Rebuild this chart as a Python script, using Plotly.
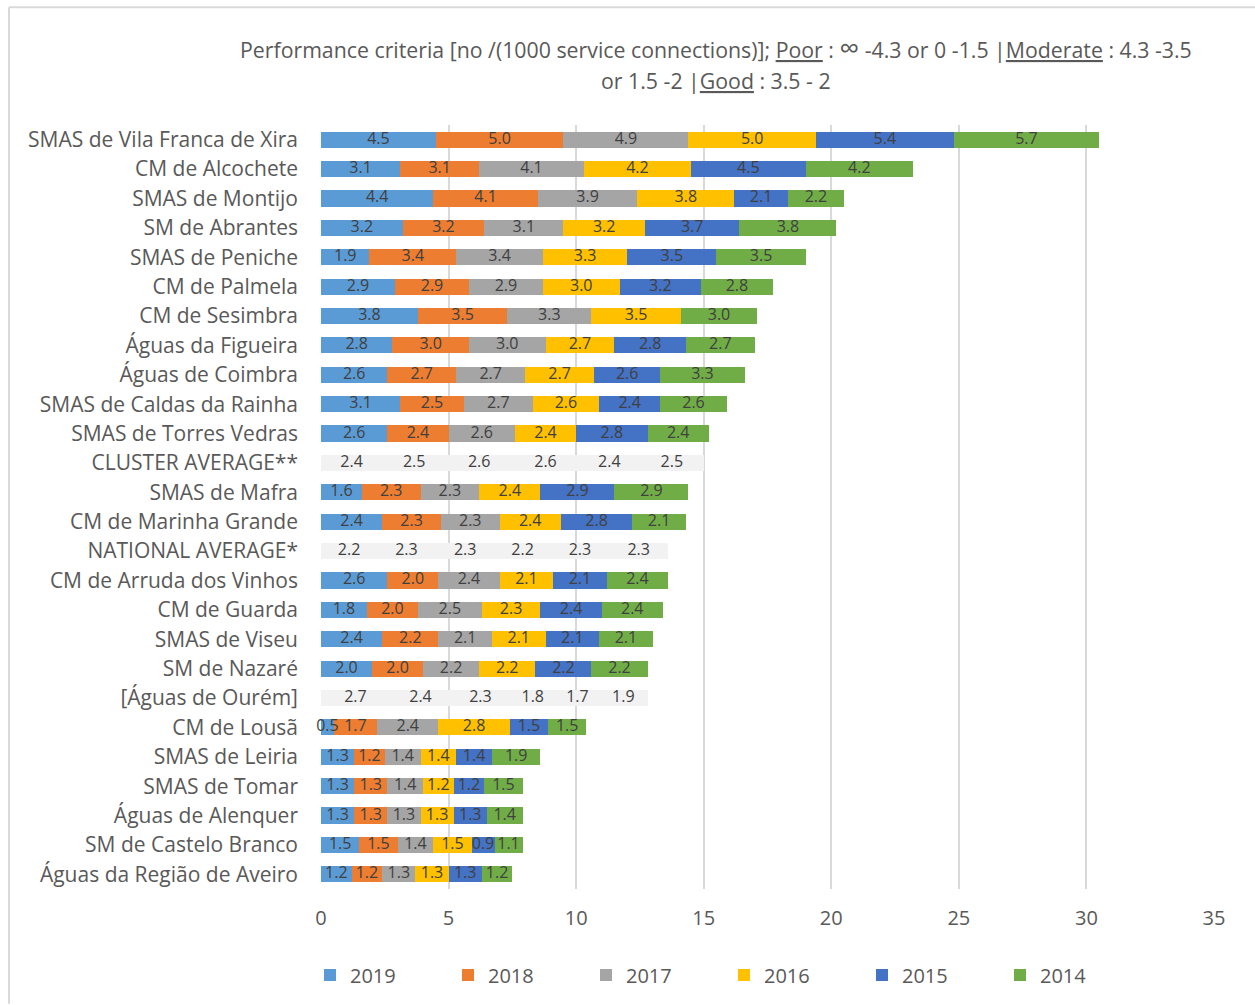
import plotly.graph_objects as go

categories = [
    "SMAS de Vila Franca de Xira", "CM de Alcochete", "SMAS de Montijo", "SM de Abrantes",
    "SMAS de Peniche", "CM de Palmela", "CM de Sesimbra", "Águas da Figueira",
    "Águas de Coimbra", "SMAS de Caldas da Rainha", "SMAS de Torres Vedras",
    "CLUSTER AVERAGE**", "SMAS de Mafra", "CM de Marinha Grande", "NATIONAL AVERAGE*",
    "CM de Arruda dos Vinhos", "CM de Guarda", "SMAS de Viseu", "SM de Nazaré",
    "[Águas de Ourém]", "CM de Lousã", "SMAS de Leiria", "SMAS de Tomar",
    "Águas de Alenquer", "SM de Castelo Branco", "Águas da Região de Aveiro",
]

years = ["2019", "2018", "2017", "2016", "2015", "2014"]

v2019 = [4.5, 3.1, 4.4, 3.2, 1.9, 2.9, 3.8, 2.8, 2.6, 3.1, 2.6, 2.4, 1.6, 2.4, 2.2, 2.6, 1.8, 2.4, 2.0, 2.7, 0.5, 1.3, 1.3, 1.3, 1.5, 1.2]
v2018 = [5.0, 3.1, 4.1, 3.2, 3.4, 2.9, 3.5, 3.0, 2.7, 2.5, 2.4, 2.5, 2.3, 2.3, 2.3, 2.0, 2.0, 2.2, 2.0, 2.4, 1.7, 1.2, 1.3, 1.3, 1.5, 1.2]
v2017 = [4.9, 4.1, 3.9, 3.1, 3.4, 2.9, 3.3, 3.0, 2.7, 2.7, 2.6, 2.6, 2.3, 2.3, 2.3, 2.4, 2.5, 2.1, 2.2, 2.3, 2.4, 1.4, 1.4, 1.3, 1.4, 1.3]
v2016 = [5.0, 4.2, 3.8, 3.2, 3.3, 3.0, 3.5, 2.7, 2.7, 2.6, 2.4, 2.6, 2.4, 2.4, 2.2, 2.1, 2.3, 2.1, 2.2, 1.8, 2.8, 1.4, 1.2, 1.3, 1.5, 1.3]
v2015 = [5.4, 4.5, 2.1, 3.7, 3.5, 3.2, None, 2.8, 2.6, 2.4, 2.8, 2.4, 2.9, 2.8, 2.3, 2.1, 2.4, 2.1, 2.2, 1.7, 1.5, 1.4, 1.2, 1.3, 0.9, 1.3]
v2014 = [5.7, 4.2, 2.2, 3.8, 3.5, 2.8, 3.0, 2.7, 3.3, 2.6, 2.4, 2.5, 2.9, 2.1, 2.3, 2.4, 2.4, 2.1, 2.2, 1.9, 1.5, 1.9, 1.5, 1.4, 1.1, 1.2]

series = [v2019, v2018, v2017, v2016, v2015, v2014]
colors = ["#5B9BD5", "#ED7D31", "#A5A5A5", "#FFC000", "#4472C4", "#70AD47"]
reference_rows = {"CLUSTER AVERAGE**", "NATIONAL AVERAGE*", "[Águas de Ourém]"}
ref_color = "#F2F2F2"

x_ticks = [0, 5, 10, 15, 20, 25, 30, 35]

fig = go.Figure()
for year, vals, col in zip(years, series, colors):
    bar_colors = [ref_color if c in reference_rows else col for c in categories]
    fig.add_trace(go.Bar(
        y=categories, x=vals, name=year, orientation="h",
        marker=dict(color=bar_colors, line=dict(width=0)),
        hoverinfo="x+y+name",
    ))

# data labels on top of all bars (centre of each stacked segment)
lab_x, lab_y, lab_t = [], [], []
for i, cat in enumerate(categories):
    start = 0.0
    for vals in series:
        v = vals[i]
        if v is None:
            continue
        lab_x.append(start + v / 2)
        lab_y.append(cat)
        lab_t.append(f"{v:.1f}")
        start += v
fig.add_trace(go.Scatter(
    x=lab_x, y=lab_y, text=lab_t, mode="text", textposition="middle center",
    textfont=dict(family="Open Sans, Noto Sans", size=16, color="#404040"),
    showlegend=False, hoverinfo="skip", cliponaxis=False,
))

L, R, T, B = 321, 1214, 125, 890
W, H = 1255, 1005
pw, ph = R - L, B - T

def px(x):
    return (x - L) / pw

def py(y):
    return (B - y) / ph

title_font = dict(family="Open Sans, Noto Sans", size=21.3, color="#595959")
inf = '<span style="font-size:28px">∞</span>'

fig.update_layout(
    width=W, height=H,
    margin=dict(l=L, r=W - R, t=T, b=H - B),
    barmode="stack", bargap=0.45,
    plot_bgcolor="white", paper_bgcolor="white",
    font=dict(family="Open Sans, Noto Sans, sans-serif", color="#595959"),
    xaxis=dict(range=[0, 35], tickvals=x_ticks, showgrid=True, gridcolor="#D9D9D9", gridwidth=1.5,
               zeroline=False, showline=False, ticks="", tickfont=dict(size=20, color="#595959"),
               ticklabelstandoff=15, fixedrange=True),
    yaxis=dict(range=[len(categories) - 0.5, -0.5], showgrid=False, showline=False, ticks="",
               tickfont=dict(size=21, color="#595959"), ticklabelstandoff=22),
    legend=dict(orientation="h", x=px(310), xanchor="left", y=py(975), yanchor="middle",
                entrywidth=93, entrywidthmode="pixels", traceorder="normal",
                font=dict(size=20, color="#595959")),
    showlegend=True,
    annotations=[
        dict(text="Performance criteria [no /(1000 service connections)]; <u>Poor</u> : " + inf + " -4.3 or 0 -1.5 |<u>Moderate</u> : 4.3 -3.5",
             x=px(716), y=py(47), xref="paper", yref="paper", xanchor="center", yanchor="middle",
             showarrow=False, font=title_font),
        dict(text="or 1.5 -2 |<u>Good</u> : 3.5 - 2",
             x=px(716), y=py(80), xref="paper", yref="paper", xanchor="center", yanchor="middle",
             showarrow=False, font=title_font),
    ],
    shapes=[
        dict(type="line", xref="paper", yref="paper", x0=px(9), x1=px(1255), y0=py(7), y1=py(7),
             line=dict(color="#D9D9D9", width=2)),
        dict(type="line", xref="paper", yref="paper", x0=px(9), x1=px(9), y0=py(7), y1=py(1005),
             line=dict(color="#D9D9D9", width=2)),
    ],
)

fig.write_html("out.html")
